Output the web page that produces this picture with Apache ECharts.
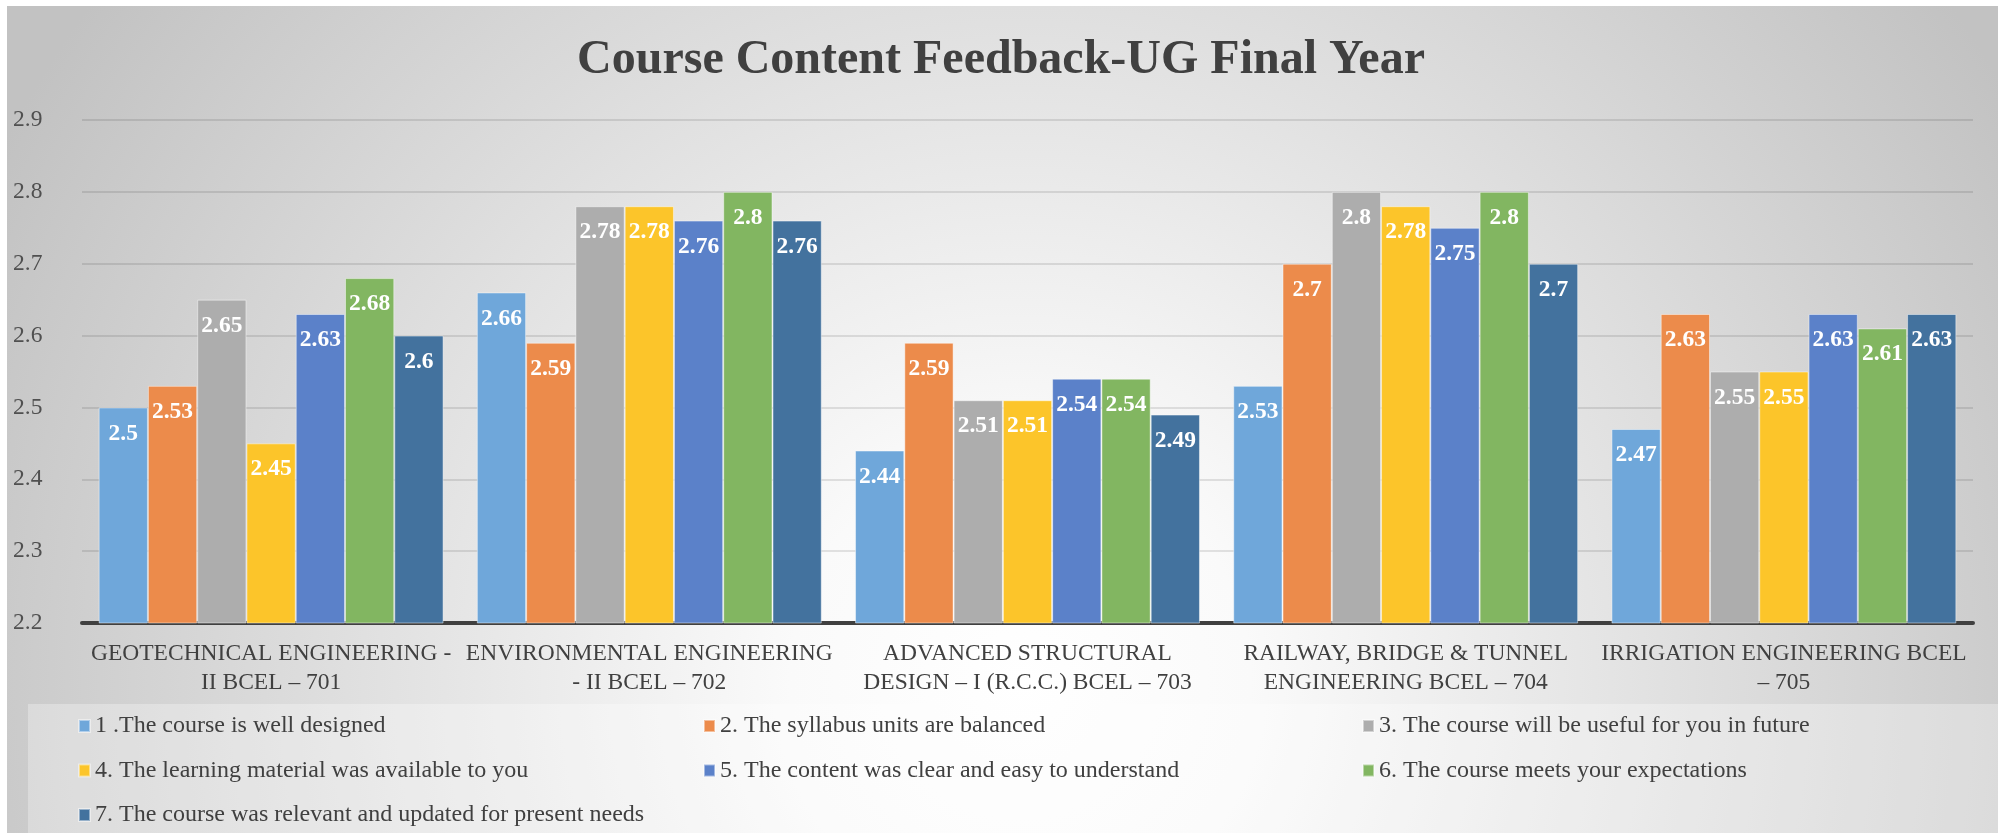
<!DOCTYPE html>
<html>
<head>
<meta charset="utf-8">
<title>Course Content Feedback-UG Final Year</title>
<script src="https://cdn.jsdelivr.net/npm/echarts@6/dist/echarts.min.js"></script>
<style>
  html, body { margin: 0; padding: 0; background: #fff; }
  #chart { width: 2002px; height: 833px; }
</style>
</head>
<body>
<div id="chart"></div>
<script>
// subjects on the x axis (line breaks as in the original chart)
const categories = [
  'GEOTECHNICAL ENGINEERING -\nII BCEL – 701',
  'ENVIRONMENTAL ENGINEERING\n- II BCEL – 702',
  'ADVANCED STRUCTURAL\nDESIGN – I (R.C.C.) BCEL – 703',
  'RAILWAY, BRIDGE & TUNNEL\nENGINEERING BCEL – 704',
  'IRRIGATION ENGINEERING BCEL\n– 705'
]

const questions = [
  '1 .The course is well designed',
  '2. The syllabus units are balanced',
  '3. The course will be useful for you in future',
  '4. The learning material was available to you',
  '5. The content was clear and easy to understand',
  '6. The course meets your expectations',
  '7. The course was relevant and updated for present needs'
]

const q1 = [2.5, 2.66, 2.44, 2.53, 2.47]
const q2 = [2.53, 2.59, 2.59, 2.7, 2.63]
const q3 = [2.65, 2.78, 2.51, 2.8, 2.55]
const q4 = [2.45, 2.78, 2.51, 2.78, 2.55]
const q5 = [2.63, 2.76, 2.54, 2.75, 2.63]
const q6 = [2.68, 2.8, 2.54, 2.8, 2.61]
const q7 = [2.6, 2.76, 2.49, 2.7, 2.63]

// y axis ticks: 2.2 .. 2.9 step 0.1
const yMin = 2.2
const yMax = 2.9
const yStep = 0.1

const colors = ['#6fa7da', '#ec8b4b', '#adadad', '#fcc52a', '#5b81c9', '#82b661', '#43729e']
const fontFamily = 'Liberation Serif'
const textColor = '#404040'

const chart = echarts.init(document.getElementById('chart'))

const values = [q1, q2, q3, q4, q5, q6, q7]
const series = values.map((data, index) => {
  return {
    name: questions[index],
    type: 'bar',
    data: data,
    barGap: '0%',
    barCategoryGap: '8.8%',
    itemStyle: {
      color: colors[index],
      borderColor: 'rgba(255,255,255,0.45)',
      borderWidth: 1
    },
    label: {
      show: true,
      position: 'insideTop',
      distance: 14,
      color: '#fff',
      fontFamily: fontFamily,
      fontWeight: 'bold',
      fontSize: 23.5
    }
  }
})

// legend is laid out in three columns, row by row
const legendColumn = (names, left) => {
  return {
    orient: 'vertical',
    left: left,
    top: 714,
    padding: 0,
    itemGap: 20.5,
    itemWidth: 11,
    itemHeight: 12,
    icon: 'rect',
    data: names,
    textStyle: {
      color: textColor,
      fontFamily: fontFamily,
      fontSize: 24,
      lineHeight: 24
    }
  }
}

const option = {
  backgroundColor: '#fff',
  color: colors,
  textStyle: { fontFamily: fontFamily },
  graphic: [
    {
      type: 'rect',
      z: -10,
      silent: true,
      shape: { x: 7, y: 6, width: 1991, height: 827 },
      style: {
        fill: {
          type: 'radial',
          x: 1020,
          y: 680,
          r: 1150,
          global: true,
          colorStops: [
            { offset: 0, color: '#ffffff' },
            { offset: 0.2, color: '#fafafa' },
            { offset: 1, color: '#c2c2c2' }
          ]
        }
      }
    },
    {
      type: 'rect',
      z: -9,
      silent: true,
      shape: { x: 28, y: 704, width: 1970, height: 129 },
      style: { fill: 'rgba(255,255,255,0.3)' }
    }
  ],
  title: {
    text: 'Course Content Feedback-UG Final Year',
    left: 'center',
    top: 32,
    textStyle: {
      color: textColor,
      fontFamily: fontFamily,
      fontWeight: 'bold',
      fontSize: 48
    }
  },
  legend: [
    legendColumn([questions[0], questions[3], questions[6]], 78),
    legendColumn([questions[1], questions[4]], 703),
    legendColumn([questions[2], questions[5]], 1362)
  ],
  grid: {
    left: 82,
    right: 29,
    top: 120,
    bottom: 210,
    containLabel: false
  },
  xAxis: {
    type: 'category',
    data: categories,
    axisTick: { show: false },
    axisLine: {
      lineStyle: { color: textColor, width: 4 }
    },
    axisLabel: {
      interval: 0,
      color: textColor,
      fontFamily: fontFamily,
      fontSize: 23.5,
      lineHeight: 29,
      margin: 16
    }
  },
  yAxis: {
    type: 'value',
    min: yMin,
    max: yMax,
    interval: yStep,
    axisLine: { show: false },
    axisTick: { show: false },
    axisLabel: {
      color: '#505050',
      fontFamily: fontFamily,
      fontSize: 23.5,
      margin: 69,
      align: 'left'
    },
    splitLine: {
      lineStyle: { color: 'rgba(0,0,0,0.1)', width: 2 }
    }
  },
  series: series
}

chart.setOption(option)
</script>
</body>
</html>
